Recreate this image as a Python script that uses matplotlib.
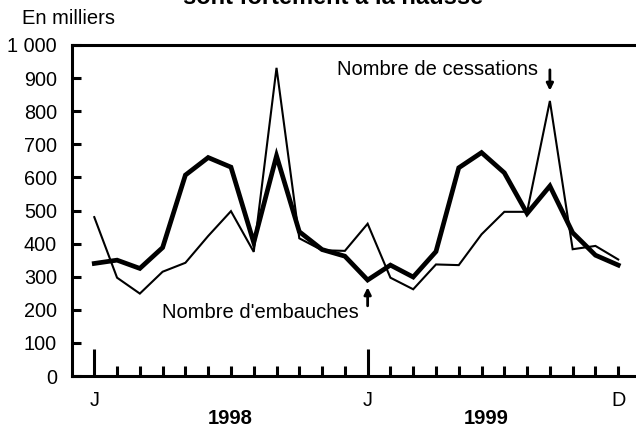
import matplotlib
matplotlib.use("Agg")
import matplotlib.pyplot as plt
import numpy as np

plt.rcParams['font.family'] = ['Liberation Sans', 'DejaVu Sans']

months = list(range(24))
embauches = [340, 350, 325, 388, 607, 660, 631, 403, 665, 436, 382, 362,
             290, 335, 299, 376, 629, 675, 614, 491, 574, 433, 365, 335]
cessations = [480, 297, 249, 315, 342, 423, 498, 375, 931, 416, 380, 378,
              460, 297, 262, 337, 335, 428, 496, 496, 831, 383, 393, 352]
yticks = [0, 100, 200, 300, 400, 500, 600, 700, 800, 900, 1000]
ytick_labels = ['0', '100', '200', '300', '400', '500', '600', '700', '800', '900', '1 000']
major_pos = [0, 12]
major_labels = ['J', 'J']
years = ['1998', '1999']

W, H = 636, 443
fig = plt.figure(figsize=(W / 100, H / 100), dpi=100)
left_px, right_px = 71.5, 71.5 + 25 * 22.78
top_px, bot_px = 45, 376
ax = fig.add_axes([left_px / W, 1 - bot_px / H, (right_px - left_px) / W, (bot_px - top_px) / H])

ax.plot(months, cessations, color='black', lw=1.5, solid_joinstyle='miter')
ax.plot(months, embauches, color='black', lw=3.4, solid_joinstyle='miter')

ax.set_xlim(-1, 24)
ax.set_ylim(0, 1000)

for s in ['left', 'bottom', 'top']:
    ax.spines[s].set_linewidth(2.2)
ax.spines['right'].set_visible(False)

ax.set_yticks(yticks)
ax.set_yticklabels(ytick_labels)
ax.tick_params(axis='y', direction='in', length=6.7, width=2.2, pad=10.5, labelsize=14.3)

ax.set_xticks(major_pos)
ax.set_xticklabels(major_labels)
minor_pos = [m for m in months if m not in major_pos]
ax.set_xticks(minor_pos, minor=True)
ax.set_xticklabels(['' for _ in minor_pos[:-1]] + ['D'], minor=True)
ax.tick_params(axis='x', which='major', direction='in', length=19.5, width=2.2, pad=11, labelsize=14.3)
ax.tick_params(axis='x', which='minor', direction='in', length=7.2, width=2.2, pad=11, labelsize=14.3)

ax.text(5.97, -127, years[0], ha='center', va='center', fontsize=14.5, fontweight='bold', clip_on=False)
ax.text(17.2, -127, years[1], ha='center', va='center', fontsize=14.5, fontweight='bold', clip_on=False)

ax.text(2.97, 192, "Nombre d'embauches", ha='left', va='center', fontsize=14.5)
ax.annotate('', xy=(12, 268), xytext=(12, 212),
            arrowprops=dict(arrowstyle='-|>', lw=2, color='black', mutation_scale=10, shrinkA=0, shrinkB=0))
ax.text(10.65, 927, "Nombre de cessations", ha='left', va='center', fontsize=14.5)
ax.annotate('', xy=(20, 862), xytext=(20, 925),
            arrowprops=dict(arrowstyle='-|>', lw=2, color='black', mutation_scale=10, shrinkA=0, shrinkB=0))

fig.text(22 / W, 1 - 18 / H, 'En milliers', ha='left', va='center', fontsize=14.5)
fig.text(333 / W, 1 - 4 / H, 'sont fortement à la hausse', ha='center', va='baseline',
         fontsize=17, fontweight='bold')

fig.savefig('out.png', dpi=100)
